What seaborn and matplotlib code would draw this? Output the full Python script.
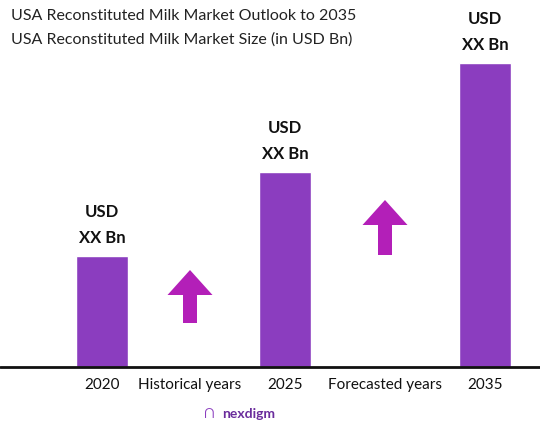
import matplotlib
matplotlib.use("Agg")
import matplotlib.pyplot as plt
import seaborn as sns

# data (bar heights, relative units)
years = ["2020", "2025", "2035"]
values = [1.11, 1.95, 3.04]
bar_labels = ["USD\nXX Bn", "USD\nXX Bn", "USD\nXX Bn"]
gap_labels = ["Historical years", "Forecasted years"]
arrow_spans = [(0.44, 0.97), (1.12, 1.67)]

# layout (pixel columns of the reference)
bar_x = [102, 285, 485]
gap_x = [190, 385]

sns.set_theme(style="white")
plt.rcParams["font.family"] = ["Lato", "DejaVu Sans"]

fig = plt.figure(figsize=(5.4, 4.33), dpi=100)
ax = fig.add_axes([0, 66 / 433, 1, 367 / 433])

sns.barplot(x=bar_x, y=values, native_scale=True, color="#8b3dbf", saturation=1,
            width=52 / 183, ax=ax)
ax.set_xlim(0, 540)
ax.set_ylim(0, 3.67)
ax.axis("off")

for x, v, lab in zip(bar_x, values, bar_labels):
    ax.text(x, v + 0.1, lab, ha="center", va="bottom", fontsize=12,
            fontweight="bold", color="#111111", linespacing=1.8)

for x, (y0, y1) in zip(gap_x, arrow_spans):
    ax.arrow(x, y0, 0, y1 - y0, width=14, head_width=45, head_length=0.25,
             length_includes_head=True, color="#b31fb8", lw=0)

ax.axhline(0, color="#111111", lw=2, clip_on=False)

for x, c in zip(bar_x + gap_x, years + gap_labels):
    fig.text(x / 540, 1 - 385 / 433, c, ha="center", va="center",
             fontsize=11, color="#111111")

fig.text(0.02, 1 - 16 / 433, "USA Reconstituted Milk Market Outlook to 2035",
         fontsize=11.5, color="#222222", va="center")
fig.text(0.02, 1 - 40 / 433, "USA Reconstituted Milk Market Size (in USD Bn)",
         fontsize=11.5, color="#222222", va="center")
fig.text(222 / 540, 1 - 414 / 433, "nexdigm", fontsize=10, fontweight="bold",
         color="#6a2c9c", va="center")
fig.text(204 / 540, 1 - 413 / 433, "\u2229", fontsize=13, color="#8b3dbf", va="center")

fig.savefig("out.png", dpi=100)
